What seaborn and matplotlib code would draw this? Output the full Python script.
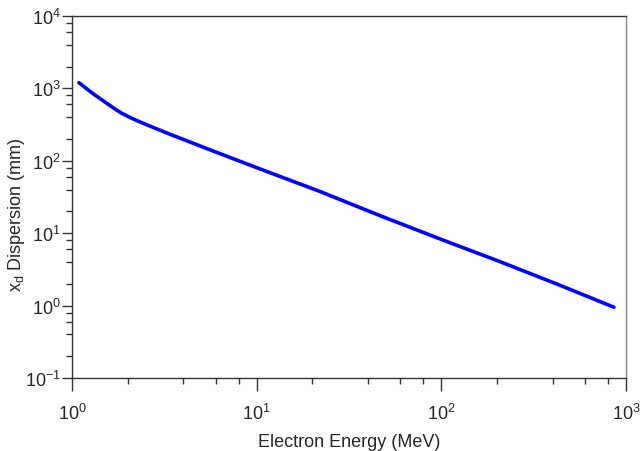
import numpy as np
import pandas as pd
import matplotlib
matplotlib.use('Agg')
import matplotlib.pyplot as plt
import seaborn as sns
from matplotlib.ticker import LogLocator

# Values
energy_mev = [1.09, 1.2, 1.3, 1.48, 1.7, 1.85, 2.06, 2.33, 2.6, 3.39, 5.58, 10.4, 22.0, 46.5, 100.0, 207.6, 430.0, 860.0]
dispersion_mm = [1200, 990, 845, 670, 524, 457, 397, 345, 306.5, 233, 142, 77.4, 37.7, 17.5, 8.2, 4.05, 1.95, 0.95]

x_label = 'Electron Energy (MeV)'
y_label = r'x$_\mathregular{d}$ Dispersion (mm)'

sns.set_style('ticks')
plt.rcParams['font.family'] = ['Liberation Sans', 'DejaVu Sans']
plt.rcParams['mathtext.fontset'] = 'custom'
plt.rcParams['mathtext.rm'] = 'Liberation Sans'

df = pd.DataFrame({'energy': energy_mev, 'disp': dispersion_mm})

fig = plt.figure(figsize=(6.42, 4.52), dpi=100)
ax = fig.add_axes([72 / 642, 73 / 452, 554 / 642, 362 / 452])

sns.lineplot(data=df, x='energy', y='disp', ax=ax, color='#0000ff', linewidth=2.6)

ax.set_xscale('log')
ax.set_yscale('log')
ax.set_xlim(1, 1000)
ax.set_ylim(0.1, 1e4)

for axis in (ax.xaxis, ax.yaxis):
    axis.set_major_locator(LogLocator(base=10, numticks=10))
    axis.set_minor_locator(LogLocator(base=10, subs=(2, 4, 6, 8), numticks=10))

ax.tick_params(which='major', direction='out', length=7, width=1, color='#333333',
               labelsize=13, top=False, right=False)
ax.tick_params(axis='x', which='major', length=9, pad=9)
ax.tick_params(axis='y', which='major', pad=1)
ax.tick_params(which='minor', direction='out', length=4, width=1, color='#333333',
               top=False, right=False)

for s in ax.spines.values():
    s.set_color('#333333')
    s.set_linewidth(1)
ax.spines['right'].set_color('#888888')

ax.set_xlabel(x_label, fontsize=13, labelpad=7)
ax.set_ylabel(y_label, fontsize=13)
ax.yaxis.set_label_coords(-45 / 554, 0.453)

fig.savefig('out.png', dpi=100)
